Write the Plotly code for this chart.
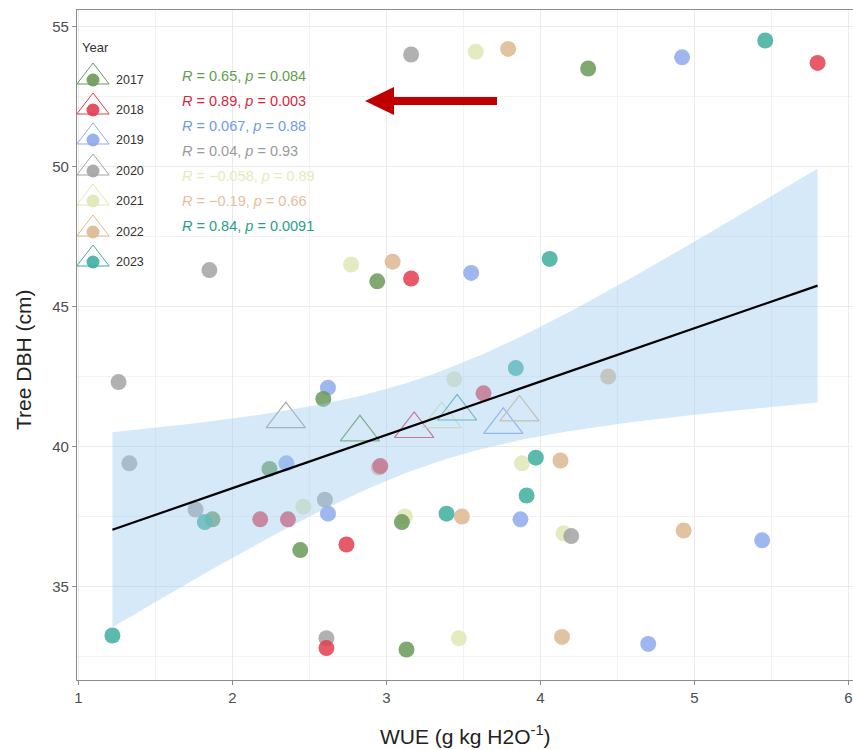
import numpy as np
import plotly.graph_objects as go

years = ["2017", "2018", "2019", "2020", "2021", "2022", "2023"]
colors = ["#6a9a58", "#e23d4f", "#8ea9ec", "#a3a3a3", "#dfe8b5", "#dcb990", "#3fae9e"]
text_colors = ["#5f9e4c", "#d7263d", "#6f9be8", "#9a9a9a", "#e4ecb8", "#e8bca0", "#2a9d8f"]

wue = {
    "2017": [4.31, 2.94, 2.59, 2.24, 2.44, 3.10, 3.13, 1.87],
    "2018": [5.80, 3.16, 3.63, 2.96, 2.18, 2.36, 2.74, 2.61],
    "2019": [4.92, 3.55, 2.62, 2.35, 2.62, 3.87, 5.44, 4.70],
    "2020": [3.16, 1.85, 1.26, 1.33, 1.76, 2.60, 4.20, 2.61],
    "2021": [3.58, 2.77, 3.44, 3.88, 2.46, 3.12, 4.15, 3.47],
    "2022": [3.79, 3.04, 4.13, 3.49, 4.93, 4.14, 4.44, 2.95],
    "2023": [5.46, 4.06, 3.84, 3.97, 1.82, 3.39, 3.91, 1.22],
}
dbh = {
    "2017": [53.5, 45.9, 41.7, 39.2, 36.3, 37.3, 32.75, 37.4],
    "2018": [53.7, 46.0, 41.9, 39.3, 37.4, 37.4, 36.5, 32.8],
    "2019": [53.9, 46.2, 42.1, 39.4, 37.6, 37.4, 36.65, 32.95],
    "2020": [54.0, 46.3, 42.3, 39.4, 37.75, 38.1, 36.8, 33.15],
    "2021": [54.1, 46.5, 42.4, 39.4, 37.85, 37.5, 36.9, 33.15],
    "2022": [54.2, 46.6, 39.5, 37.5, 37.0, 33.2, 42.5, 39.25],
    "2023": [54.5, 46.7, 42.8, 39.6, 37.3, 37.6, 38.25, 33.25],
}
stats_text = [
    "<i>R</i> = 0.65, <i>p</i> = 0.084",
    "<i>R</i> = 0.89, <i>p</i> = 0.003",
    "<i>R</i> = 0.067, <i>p</i> = 0.88",
    "<i>R</i> = 0.04, <i>p</i> = 0.93",
    "<i>R</i> = \u22120.058, <i>p</i> = 0.89",
    "<i>R</i> = \u22120.19, <i>p</i> = 0.66",
    "<i>R</i> = 0.84, <i>p</i> = 0.0091",
]
x_ticks = [1, 2, 3, 4, 5, 6]
y_ticks = [35, 40, 45, 50, 55]

FONT = "Liberation Sans, Arial, sans-serif"
W, H = 853, 750
ML, MR, MT, MB = 77, 0, 10, 70


def px(xp):
    return (xp - ML) / (W - ML - MR)


def py(yp):
    return 1 - (yp - MT) / (H - MT - MB)


fig = go.Figure()

draw_order = ["2021", "2022", "2019", "2020", "2018", "2017", "2023"]
for yr in draw_order:
    i = years.index(yr)
    fig.add_trace(go.Scatter(
        x=wue[yr], y=dbh[yr], mode="markers", name=yr, showlegend=False,
        marker=dict(symbol="circle", size=16, color=colors[i], opacity=0.85, line=dict(width=0)),
    ))

for i, yr in enumerate(years):
    fig.add_trace(go.Scatter(
        x=[float(np.mean(wue[yr]))], y=[float(np.mean(dbh[yr]))], mode="markers", showlegend=False,
        marker=dict(symbol="triangle-up-open", size=34, color=colors[i], line=dict(width=1.2, color=colors[i])),
    ))

X = np.concatenate([wue[y] for y in years])
Y = np.concatenate([dbh[y] for y in years])
n = len(X)
b, a = np.polyfit(X, Y, 1)
xs = np.linspace(X.min(), X.max(), 100)
yhat = a + b * xs
res = Y - (a + b * X)
s = np.sqrt(np.sum(res ** 2) / (n - 2))
sxx = np.sum((X - X.mean()) ** 2)
df = n - 2
z = 1.959964
t = z + (z ** 3 + z) / (4 * df) + (5 * z ** 5 + 16 * z ** 3 + 3 * z) / (96 * df ** 2)
se = s * np.sqrt(1 / n + (xs - X.mean()) ** 2 / sxx)
upper = yhat + t * se
lower = yhat - t * se

fig.add_trace(go.Scatter(
    x=np.concatenate([xs, xs[::-1]]), y=np.concatenate([upper, lower[::-1]]),
    fill="toself", fillcolor="rgba(158,202,240,0.42)", line=dict(width=0),
    mode="lines", hoverinfo="skip", showlegend=False,
))
fig.add_trace(go.Scatter(x=xs, y=yhat, mode="lines", line=dict(color="black", width=2.2), showlegend=False))

leg_rows = [80, 110, 140, 171, 201, 232, 262]
for i, yr in enumerate(years):
    fig.add_trace(go.Scatter(
        x=[93], y=[leg_rows[i]], mode="markers", xaxis="x2", yaxis="y2", showlegend=False,
        marker=dict(symbol="circle", size=13, color=colors[i], opacity=0.9),
    ))
    fig.add_trace(go.Scatter(
        x=[93], y=[leg_rows[i] - 3], mode="markers", xaxis="x2", yaxis="y2", showlegend=False,
        marker=dict(symbol="triangle-up-open", size=28, color=colors[i], line=dict(width=1, color=colors[i])),
    ))

annotations = []
annotations.append(dict(x=80, y=47, xref="x2", yref="y2", text="Year", showarrow=False,
                        xanchor="left", yanchor="middle", font=dict(size=13, color="#333333", family=FONT)))
for i, yr in enumerate(years):
    annotations.append(dict(x=114, y=leg_rows[i], xref="x2", yref="y2", text=yr, showarrow=False,
                            xanchor="left", yanchor="middle", font=dict(size=12.5, color="#333333", family=FONT)))
stat_rows = [76, 101, 126, 151, 176, 201, 226]
for i, txt in enumerate(stats_text):
    annotations.append(dict(x=180, y=stat_rows[i], xref="x2", yref="y2", text=txt, showarrow=False,
                            xanchor="left", yanchor="middle", font=dict(size=14.5, color=text_colors[i], family=FONT)))

annotations.append(dict(x=px(465), y=py(735), xref="paper", yref="paper", text="WUE (g kg H2O<sup>-1</sup>)",
                        showarrow=False, xanchor="center", yanchor="middle",
                        font=dict(size=21, color="#222222", family=FONT)))
annotations.append(dict(x=px(24), y=py(360), xref="paper", yref="paper", text="Tree DBH (cm)", showarrow=False,
                        textangle=-90, xanchor="center", yanchor="middle",
                        font=dict(size=21, color="#222222", family=FONT)))

shapes = [dict(type="path", xref="x2", yref="y2",
               path="M 497 97 L 394 97 L 394 87 L 365 101 L 394 115 L 394 105 L 497 105 Z",
               fillcolor="#c00000", line=dict(width=0))]

fig.update_layout(
    width=W, height=H,
    margin=dict(l=ML, r=MR, t=MT, b=MB),
    paper_bgcolor="white", plot_bgcolor="white",
    showlegend=False,
    annotations=annotations, shapes=shapes,
    xaxis=dict(range=[0.99, 6.03], tickvals=x_ticks, ticktext=[str(v) for v in x_ticks],
               showgrid=True, gridcolor="#ebebeb", gridwidth=1,
               minor=dict(dtick=0.5, showgrid=True, gridcolor="#f3f3f3", gridwidth=1),
               showline=True, linecolor="#8c8c8c", linewidth=1.2, mirror=True,
               ticks="outside", ticklen=4, tickcolor="#8c8c8c",
               tickfont=dict(size=15, color="#4d4d4d", family=FONT), zeroline=False),
    yaxis=dict(range=[31.66, 55.59], tickvals=y_ticks, ticktext=[str(v) for v in y_ticks],
               showgrid=True, gridcolor="#ebebeb", gridwidth=1,
               minor=dict(dtick=2.5, showgrid=True, gridcolor="#f3f3f3", gridwidth=1),
               showline=True, linecolor="#8c8c8c", linewidth=1.2, mirror=True,
               ticks="outside", ticklen=4, tickcolor="#8c8c8c",
               tickfont=dict(size=15, color="#4d4d4d", family=FONT), zeroline=False),
    xaxis2=dict(overlaying="x", range=[ML, W - MR], visible=False, fixedrange=True),
    yaxis2=dict(overlaying="y", range=[H - MB, MT], visible=False, fixedrange=True),
)
fig.write_html("out.html")
